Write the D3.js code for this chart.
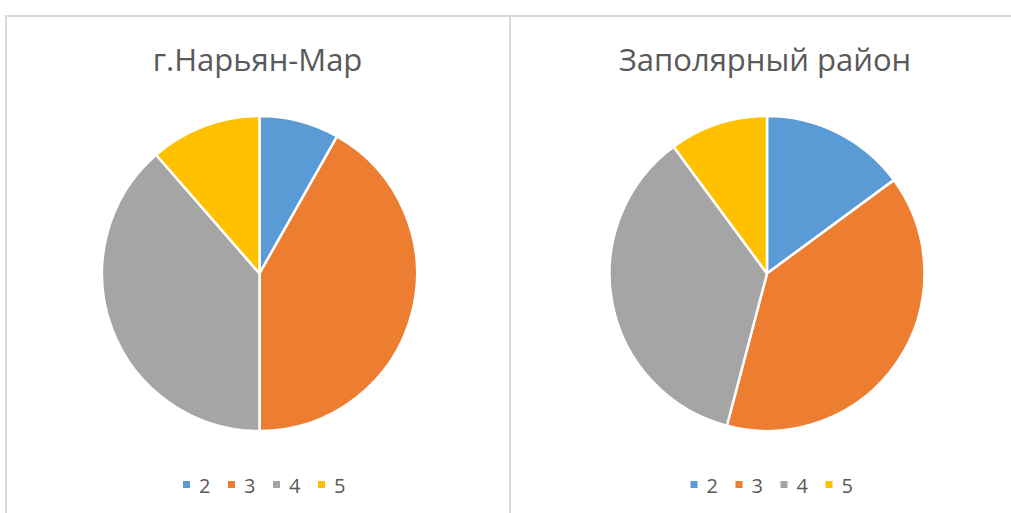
<!DOCTYPE html>
<html lang="ru">
<head>
<meta charset="utf-8">
<title>Оценки</title>
<style>
  body { margin: 0; background: #fff; }
  svg { display: block; font-family: "Open Sans", sans-serif; }
</style>
<script src="https://d3js.org/d3.v7.min.js"></script>
</head>
<body>
<svg id="chart" width="1011" height="513"></svg>
<script>
// оценки и доли (%)
var grades = ["2", "3", "4", "5"];
var titles = ["г.Нарьян-Мар", "Заполярный район"];
var naryanMar = [8.2, 41.8, 38.6, 11.4];
var zapolyarny = [14.9, 39.2, 35.8, 10.1];
var colors = ["#5b9bd5", "#ed7d31", "#a5a5a5", "#ffc000"];

var svg = d3.select("#chart");

// рамки панелей
svg.append("line").attr("x1", 5).attr("x2", 1011).attr("y1", 16).attr("y2", 16)
  .attr("stroke", "#d9d9d9").attr("stroke-width", 2);
svg.append("line").attr("x1", 6).attr("x2", 6).attr("y1", 15).attr("y2", 513)
  .attr("stroke", "#d9d9d9").attr("stroke-width", 2);
svg.append("line").attr("x1", 510).attr("x2", 510).attr("y1", 15).attr("y2", 513)
  .attr("stroke", "#d9d9d9").attr("stroke-width", 2);

var color = d3.scaleOrdinal().domain(grades).range(colors);
var pie = d3.pie().sort(null).value(function(d) { return d.v; });
var arc = d3.arc().innerRadius(0).outerRadius(157.5);

var panels = [
  { title: titles[0], values: naryanMar, cx: 259.5 },
  { title: titles[1], values: zapolyarny, cx: 767 }
];

panels.forEach(function(p) {
  var g = svg.append("g");

  g.append("text")
    .attr("x", p.cx - 2).attr("y", 71)
    .attr("text-anchor", "middle")
    .attr("fill", "#595959")
    .style("font-size", "31px")
    .text(p.title);

  var data = grades.map(function(k, i) { return { k: k, v: p.values[i] }; });

  g.append("g").attr("transform", "translate(" + p.cx + ",273.5)")
    .selectAll("path")
    .data(pie(data))
    .enter().append("path")
      .attr("d", arc)
      .attr("fill", function(d) { return color(d.data.k); })
      .attr("stroke", "#fff")
      .attr("stroke-width", 2.5)
      .attr("stroke-linejoin", "round");

  // легенда
  var step = 45;
  var item = g.selectAll("g.leg").data(grades).enter().append("g")
    .attr("class", "leg")
    .attr("transform", function(d, i) { return "translate(" + (p.cx - 76.5 + i * step) + ",0)"; });
  item.append("rect")
    .attr("x", 0).attr("y", 481).attr("width", 7).attr("height", 7)
    .attr("fill", function(d) { return color(d); });
  item.append("text")
    .attr("x", 16).attr("y", 493)
    .attr("fill", "#595959")
    .style("font-size", "20px")
    .text(function(d) { return d; });
});
</script>
</body>
</html>
